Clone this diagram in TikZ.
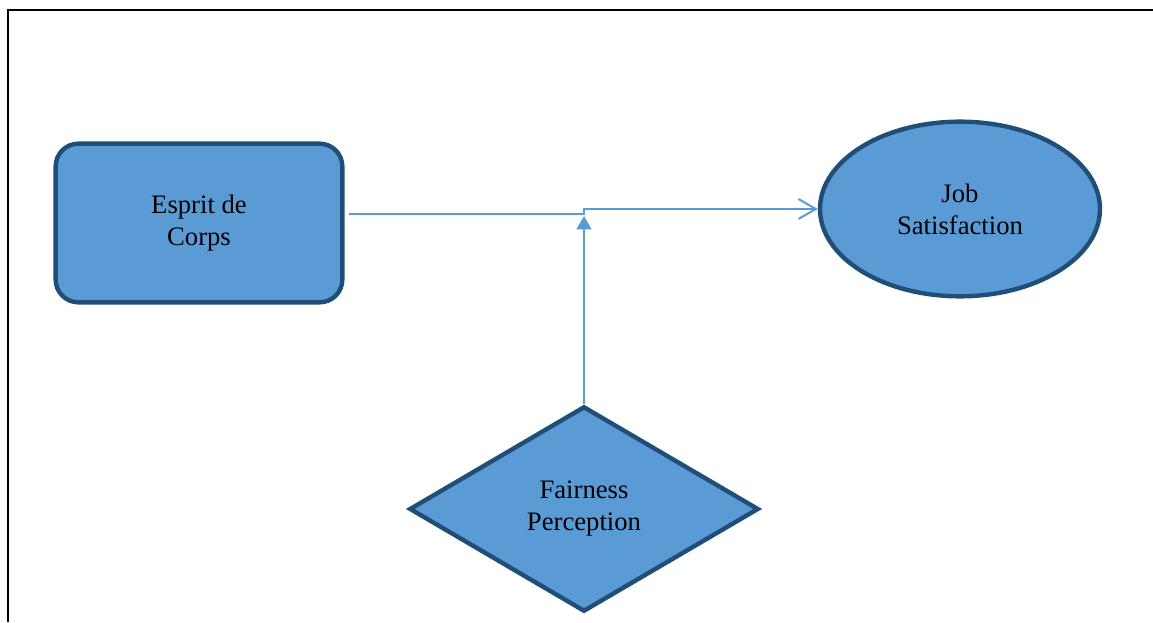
\documentclass[tikz,border=0pt]{standalone}
\usepackage{fontspec}
\setmainfont{Liberation Serif}
\usetikzlibrary{shapes.geometric,arrows.meta}
\definecolor{boxfill}{HTML}{5B9BD5}
\definecolor{boxline}{HTML}{1F4E79}
\definecolor{linkline}{HTML}{5B9BD5}

\begin{document}
\begin{tikzpicture}[x=.75pt,y=.75pt,line width=.35pt,
  font=\fontsize{20}{24}\selectfont,
  shape box/.style={draw=boxline,fill=boxfill,line width=3.3pt,align=center,inner sep=2pt},
  link/.style={draw=linkline,line width=1.5pt}]
\useasboundingbox (0,0) rectangle (1153,622);
\draw[line width=1.5pt] (8,0)--(8,612)--(1153,612);
\node[shape box,rectangle,rounded corners=17pt,minimum width=215pt,minimum height=119pt] (esprit) at (199,399) {Esprit de\\Corps};
\node[shape box,ellipse,minimum width=210pt,minimum height=131pt] (job) at (960,413) {Job\\Satisfaction};
\node[shape box,diamond,aspect=1.7,minimum width=262pt,minimum height=154pt] (fair) at (584,113) {Fairness\\Perception};
\coordinate (join) at (584,408);
\draw[link,-{Straight Barb[length=13pt,width=15pt,line width=1.5pt]}] ([xshift=3.5pt]esprit.east|-join)--(join)--(join|-job.west)--(job.west);
\draw[link,-{Triangle[length=10pt,width=11pt]}] (fair.north)--(584,406);
\end{tikzpicture}
\end{document}
